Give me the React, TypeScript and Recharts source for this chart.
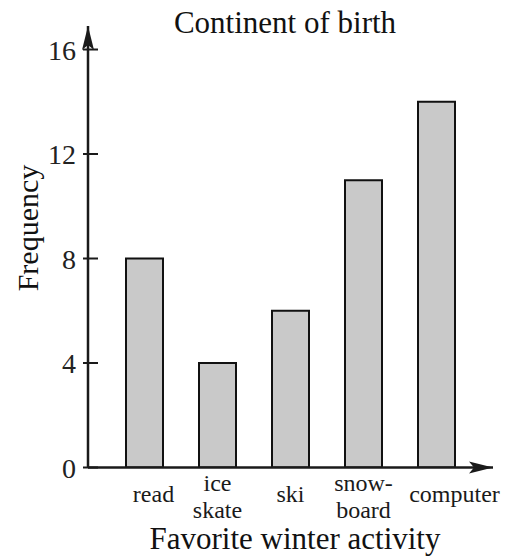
import { Bar, BarChart, Label, XAxis, YAxis } from "recharts";

const activities = ["read", "ice\nskate", "ski", "snow-\nboard", "computer"];
const frequencies = [8, 4, 6, 11, 14];
const yTicks = [0, 4, 8, 12, 16];

const chartData = activities.map((activity, i) => ({ activity, frequency: frequencies[i] }));

const FONT = "Liberation Serif, DejaVu Serif, serif";
const INK = "#1a1a1a";

// a few labels sit off-centre in the original
const labelShift: Record<string, number> = { read: 9, computer: 18 };

function ActivityTick(props: any) {
  const { x, y, payload } = props;
  const lines = String(payload.value).split("\n");
  const dx = labelShift[payload.value] ?? 0;
  const startY = lines.length > 1 ? y + 23 : y + 34;
  return (
    <text x={x + dx} y={startY} textAnchor="middle" style={{ fontFamily: FONT, fontSize: 24 }} fill={INK}>
      {lines.map((line, i) => (
        <tspan key={i} x={x + dx} dy={i === 0 ? 0 : 27}>
          {line}
        </tspan>
      ))}
    </text>
  );
}

function FrequencyTick(props: any) {
  const { x, y, payload } = props;
  return (
    <g>
      <line x1={x - 5} x2={x + 10} y1={y} y2={y} stroke={INK} strokeWidth={2} />
      <text x={x - 12} y={y + 10} textAnchor="end" style={{ fontFamily: FONT, fontSize: 28 }} fill="#222">
        {payload.value}
      </text>
    </g>
  );
}

export default function App() {
  return (
    <div style={{ position: "absolute", left: 0, top: 0, width: 519, height: 559, background: "#fff" }}>
      <svg width={0} height={0} style={{ position: "absolute" }}>
        <defs>
          <marker
            id="arrow"
            markerUnits="userSpaceOnUse"
            markerWidth={30}
            markerHeight={16}
            viewBox="-26 -8 28 16"
            refX={0}
            refY={0}
            orient="auto-start-reverse"
          >
            <path d="M0,0 L-24,-6 L-19,0 L-24,6 Z" fill={INK} />
          </marker>
        </defs>
      </svg>
      <BarChart
        width={519}
        height={559}
        data={chartData}
        margin={{ top: 26, right: 26, left: 0, bottom: 0 }}
      >
        <text x={285} y={33} textAnchor="middle" style={{ fontFamily: FONT, fontSize: 31 }} fill="#111">
          Continent of birth
        </text>
        <XAxis
          dataKey="activity"
          height={91.5}
          padding={{ left: 20, right: 20 }}
          tickLine={false}
          tickSize={0}
          tickMargin={0}
          interval={0}
          tick={<ActivityTick />}
          axisLine={{ stroke: INK, strokeWidth: 2.5, markerEnd: "url(#arrow)" }}
        >
          <Label
            content={() => (
              <text x={295} y={549} textAnchor="middle" style={{ fontFamily: FONT, fontSize: 31 }} fill="#111">
                Favorite winter activity
              </text>
            )}
          />
        </XAxis>
        <YAxis
          width={88}
          domain={[0, 16.9]}
          ticks={yTicks}
          allowDataOverflow
          tickLine={false}
          tickSize={0}
          tickMargin={0}
          tick={<FrequencyTick />}
          axisLine={{ stroke: INK, strokeWidth: 2.5, markerStart: "url(#arrow)" }}
        >
          <Label
            content={() => (
              <text
                x={38}
                y={228}
                transform="rotate(-90 38 228)"
                textAnchor="middle"
                style={{ fontFamily: FONT, fontSize: 30 }}
                fill="#111"
              >
                Frequency
              </text>
            )}
          />
        </YAxis>
        <Bar
          dataKey="frequency"
          barSize={37}
          fill="#c9c9c9"
          stroke="#111"
          strokeWidth={2}
          isAnimationActive={false}
        />
      </BarChart>
    </div>
  );
}
